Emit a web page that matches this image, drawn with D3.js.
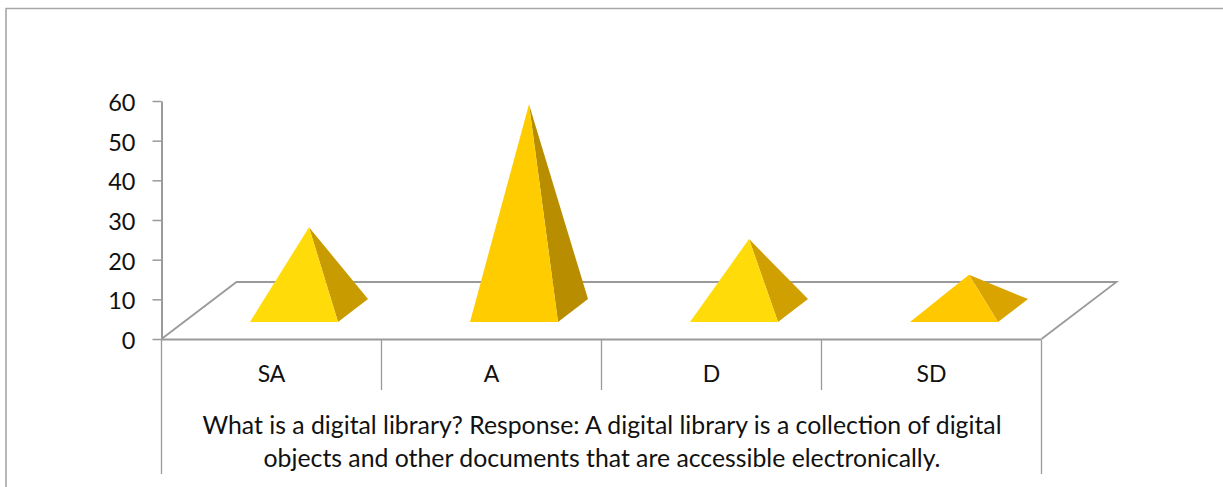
<!DOCTYPE html>
<html><head><meta charset="utf-8">
<script src="https://cdn.jsdelivr.net/npm/d3@7"></script>
<style>html,body{margin:0;padding:0;background:#fff;overflow:hidden}text{font-family:Lato,"Open Sans",sans-serif;fill:#111}</style>
</head><body><svg id="c" width="1223" height="487"></svg>
<script>
const categories = ["SA","A","D","SD"];
const values = [21,52,18,9];
const yTicks = [0,10,20,30,40,50,60];
const frontColors = ["#FFDB0A","#FFCC00","#FFDB0A","#FFC800"];
const sideColors = ["#C89B00","#B88E00","#CFA000","#D9A400"];
const captionLines = ["What is a digital library? Response: A digital library is a collection of digital","objects and other documents that are accessible electronically."];

const svg = d3.select("#c");
const grey = "#9A9A9A";
const x = d3.scaleBand().domain(categories).range([161.5,1041.5]);
const y = d3.scaleLinear().domain([0,60]).range([339,101]);
const dx = 75, dy = -57; // floor depth offset
const barFrac = 0.4;

// outer frame
svg.append("path").attr("d","M6,487V8.5H1223").attr("fill","none").attr("stroke","#A6A6A6").attr("stroke-width",1.6);

// floor
svg.append("path").attr("d",`M161.5,339L${161.5+dx},${339+dy}H${1041.5+dx}L1041.5,339`).attr("fill","none").attr("stroke",grey).attr("stroke-width",1.8);
svg.append("line").attr("x1",161.5).attr("x2",1041.5).attr("y1",339.5).attr("y2",339.5).attr("stroke",grey).attr("stroke-width",2.2);

// y axis
const yAxis = d3.axisLeft(y).tickValues(yTicks).tickSize(9).tickPadding(17).tickSizeOuter(0);
const gy = svg.append("g").attr("transform","translate(161.5,0)").call(yAxis);
gy.selectAll("path.domain").attr("stroke",grey).attr("stroke-width",2);
gy.selectAll("line").attr("stroke",grey).attr("stroke-width",1.5);
gy.selectAll("text").attr("font-size",23.5).attr("dy","0.41em");

// category separators
const edges = categories.map(c=>x(c)).concat([1041.5]);
edges.forEach((e,i)=>{
  const outer = i===0||i===categories.length;
  svg.append("line").attr("x1",e).attr("x2",e).attr("y1",340).attr("y2",outer?474:390).attr("stroke",grey).attr("stroke-width",1.3);
});

// pyramids
const g = svg.append("g");
categories.forEach((c,i)=>{
  const cx = x(c)+x.bandwidth()/2+dx/2, cy = 339+dy/2;
  const w = x.bandwidth()*barFrac;
  const ox = dx*barFrac/2, oy = dy*barFrac/2;
  const fl=[cx-w/2-ox,cy-oy], fr=[cx+w/2-ox,cy-oy], br=[cx+w/2+ox,cy+oy];
  const apex=[cx, cy-(y(0)-y(values[i]))];
  const line=d3.line();
  g.append("path").attr("d",line([fr,br,apex])+"Z").attr("fill",sideColors[i]);
  g.append("path").attr("d",line([fl,fr,apex])+"Z").attr("fill",frontColors[i]);
  svg.append("text").attr("x",x(c)+x.bandwidth()/2).attr("y",381.5).attr("text-anchor","middle").attr("font-size",23).text(c);
});

captionLines.forEach((t,i)=>{
  svg.append("text").attr("x",602).attr("y",433.5+i*33).attr("text-anchor","middle").attr("font-size",24.8).text(t);
});
</script></body></html>
